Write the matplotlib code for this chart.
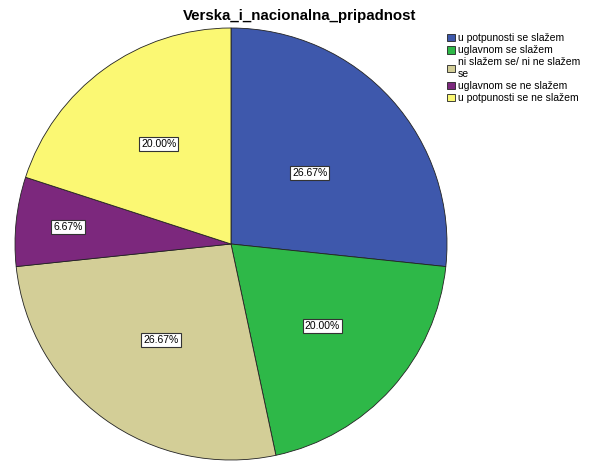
import numpy as np
import matplotlib.pyplot as plt

plt.rcParams['font.family'] = ['Liberation Sans', 'DejaVu Sans']

categories = ['u potpunosti se slažem', 'uglavnom se slažem',
              'ni slažem se/ ni ne slažem\nse', 'uglavnom se ne slažem',
              'u potpunosti se ne slažem']
counts = [4, 3, 4, 1, 3]
colors = ['#3e58ac', '#2eb848', '#d3ce97', '#7c287d', '#fbf873']
# radial position of each percentage label (fraction of radius)
label_dist = [0.49, 0.57, 0.55, 0.76, 0.57]

fig = plt.figure(figsize=(5.92, 4.61), dpi=100)
ax = fig.add_axes([0, 0, 1, 1])

# pie centre ~ (231, 244) px, radius ~216 px
cx, cy, r = 231, 244, 216
W, H = 592, 461

wedges, texts, autotexts = ax.pie(
    counts, colors=colors, startangle=90, counterclock=False,
    autopct='%.2f%%',
    wedgeprops=dict(edgecolor='#222222', linewidth=0.6),
    textprops=dict(fontsize=7.5, color='black'))
for w, t, d in zip(wedges, autotexts, label_dist):
    ang = np.deg2rad((w.theta1 + w.theta2) / 2)
    t.set_position((d * np.cos(ang), d * np.sin(ang)))
    t.set_bbox(dict(boxstyle='square,pad=0.2', facecolor='white',
                    edgecolor='#333333', linewidth=0.8))

ax.set_xlim(-cx / r, (W - cx) / r)
ax.set_ylim((cy - H) / r, cy / r)
ax.set_aspect('equal')
ax.axis('off')

fig.text(300 / W, 1 - 16 / H, 'Verska_i_nacionalna_pripadnost',
         ha='center', va='center', fontsize=10.8, fontweight='bold')

fig.legend(wedges, categories, loc='upper left',
           bbox_to_anchor=(440 / W, 1 - 26 / H), frameon=False,
           fontsize=7.5, handlelength=0.75, handleheight=0.75,
           handletextpad=0.25, labelspacing=0.2, borderpad=0.2)

fig.savefig('out.png', dpi=100)
